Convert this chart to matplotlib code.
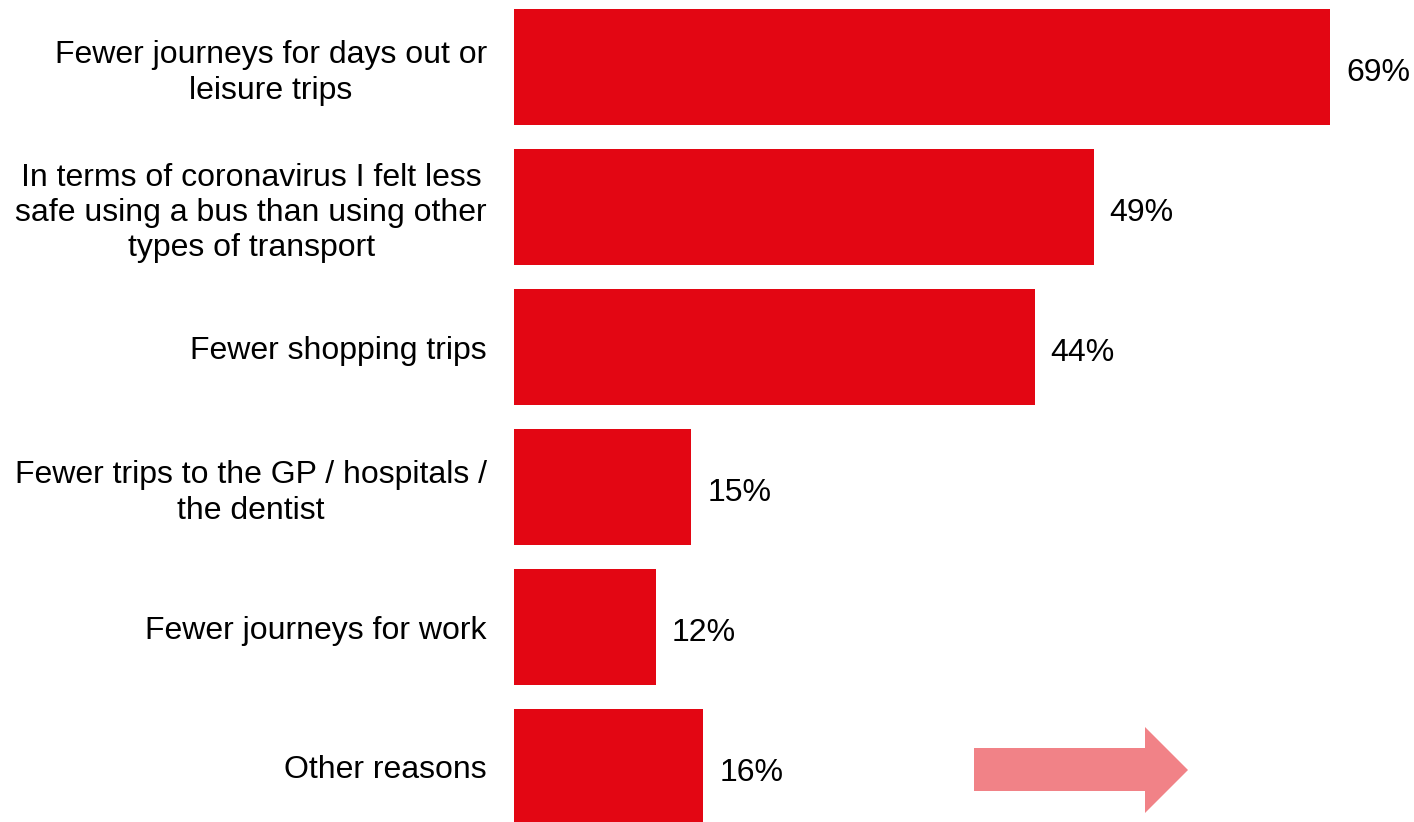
import matplotlib
matplotlib.use("Agg")
import matplotlib.pyplot as plt
from matplotlib.patches import Polygon

plt.rcParams['font.family'] = ['Liberation Sans', 'DejaVu Sans']

# Reasons for using the bus less
reasons = [
    "Fewer journeys for days out or\nleisure trips",
    "In terms of coronavirus I felt less\nsafe using a bus than using other\ntypes of transport",
    "Fewer shopping trips",
    "Fewer trips to the GP / hospitals /\nthe dentist",
    "Fewer journeys for work",
    "Other reasons",
]
shares = [69, 49, 44, 15, 12, 16]

W, H = 1414, 822
fig = plt.figure(figsize=(W / 100, H / 100), dpi=100)

# axes placed in pixels: bars start at x=514, one row every 140 px
x0 = 514
px_per_pct = 11.83
ax = fig.add_axes([x0 / W, 0, 1 - x0 / W, 1])

pos = list(range(len(reasons)))
ax.barh(pos, shares, height=116 / 140, color="#E30613")
ax.set_xlim(0, (W - x0) / px_per_pct)
ax.set_ylim((H - 67) / 140, -67 / 140)

for y, v in zip(pos, shares):
    ax.text(v + 16 / px_per_pct, y + 0.04, f"{v}%", va="center", ha="left", fontsize=23)

ax.set_yticks(pos)
ax.set_yticklabels(reasons, fontsize=23, multialignment="center", linespacing=1.22)
ax.tick_params(axis="y", length=0, pad=19.5)
ax.set_xticks([])
for s in ax.spines.values():
    s.set_visible(False)

# decorative arrow, bottom right
pts = [(974, 748), (1145, 748), (1145, 727), (1188, 770), (1145, 813),
       (1145, 791), (974, 791)]
arrow = Polygon([(x / W, 1 - y / H) for x, y in pts], closed=True,
                transform=fig.transFigure, facecolor="#F18287", edgecolor="none")
fig.patches.append(arrow)

fig.savefig("out.png", dpi=100)
